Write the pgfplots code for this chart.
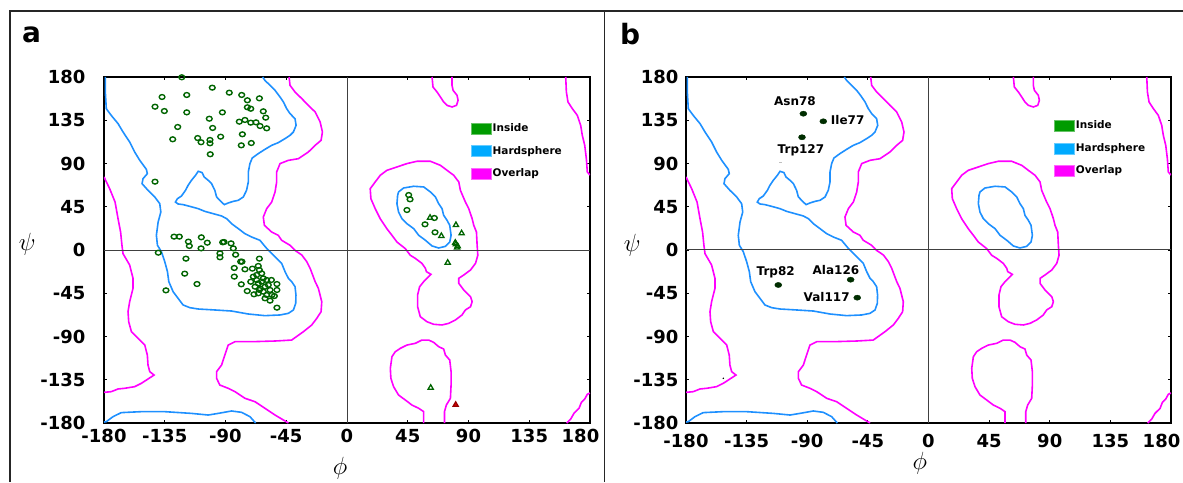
\documentclass[border=0pt]{standalone}
\usepackage{fontspec}
\setmainfont{DejaVu Sans}
\usepackage{pgfplots}
\usepackage{pgfplotstable}
\pgfplotsset{compat=1.18}

\definecolor{hblue}{RGB}{30,144,255}
\definecolor{ovmag}{RGB}{255,0,255}
\definecolor{ingreen}{RGB}{0,155,0}
\definecolor{legblue}{RGB}{0,170,255}
\definecolor{ptgreen}{RGB}{0,100,0}
\definecolor{ptdark}{RGB}{0,45,0}
\definecolor{ptred}{RGB}{150,0,0}

% contour lines (same background in both panels)
\pgfplotstableread{
x y
-179 180
-179 164
-178.3 147
-174.6 140
-169.6 131.5
-165.9 122.8
-161.0 112.4
-157.3 102
-153.5 93.3
-148.6 83.9
-147.9 79.4
-151.1 74.2
-151.8 69.0
-147.4 62.1
-142.4 55.2
-138.7 48.2
-137.9 39.5
-139.9 29.1
-141.2 15.3
-140.4 4.9
-137.5 -1.7
-135.0 -12.1
-133.0 -22.5
-132.0 -32.9
-128.8 -43.4
-125.1 -50.3
-121.4 -57.2
-116.4 -60.0
-110.2 -61.4
-97.9 -62.4
-85.5 -63.5
-73.1 -66.6
-60.8 -68.3
-49.6 -67.6
-43.4 -65.9
-39.7 -62.4
-38.0 -55.5
-37.8 -46.8
-38.5 -38.2
-41.0 -32.9
-43.4 -29.5
-45.9 -22.5
-48.4 -13.9
-52.1 -8.7
-55.8 -3.5
-59.5 1.7
-61.5 5.0
-64.5 10.1
-70.6 13.5
-75.6 17.0
-80.5 22.2
-85.5 27.4
-89.2 32.6
-92.9 35.4
-99.1 37.8
-105.3 40.2
-110.2 43.0
-116.4 45.4
-121.4 47.2
-125.1 47.9
-127.1 49.9
-125.6 53.4
-122.6 56.2
-119.6 62.1
-117.7 67.3
-115.2 72.5
-112.2 77.7
-110.2 81.9
-107.3 80.5
-105.8 76.0
-102.8 72.5
-100.3 69.0
-97.9 62.1
-96.6 55.2
-93.4 50.6
-90.9 47.2
-88.0 48.9
-84.3 50.6
-80.5 51.7
-76.8 55.2
-74.4 62.1
-73.1 70.8
-73.1 81.2
-71.9 89.9
-70.2 95.7
-65.7 100.3
-60.8 104.7
-55.8 108.9
-50.9 111.7
-45.9 115.9
-42.2 119.3
-39.7 122.8
-37.7 129.7
-38.5 136.6
-42.2 141.9
-44.7 147.1
-47.1 154.0
-49.6 159.2
-53.3 166.1
-57.0 171.3
-60.8 176.5
-62.5 180
}\blueone
\pgfplotstableread{
x y
-180 -179
-178.3 -178.6
-173.3 -173.4
-167.2 -169.2
-152.3 -168.2
-135.0 -168.2
-115.2 -170.0
-102.8 -171.7
-95.4 -170.0
-85.5 -167.5
-78.1 -168.9
-71.9 -173.4
-67.7 -180
}\bluetwo
\pgfplotstableread{
x y
38.2 60.4
41.9 64.5
49.4 66.3
56.8 65.6
61.8 60.4
65.5 55.2
67.9 48.2
70.4 43.0
71.6 36.1
74.1 30.9
76.1 25.7
77.1 15.3
76.1 8.3
72.9 3.8
67.9 2.1
63.0 4.2
58.1 10.1
53.1 15.3
49.4 22.2
44.4 27.4
40.7 32.6
38.2 39.5
37.0 48.2
37.5 56.9
38.2 60.4
}\bluethree
\pgfplotstableread{
x y
-180 76.0
-175.8 63.8
-171.8 49.9
-169.6 32.6
-167.7 18.7
-166.7 4.9
-165.9 -3.8
-161.0 -15.6
-158.5 -29.5
-158.5 -39.9
-161.0 -53.8
-162.2 -64.2
-161.7 -74.6
-159.7 -85.0
-154.8 -91.9
-149.8 -98.9
-147.9 -109.3
-147.4 -119.7
-146.1 -126.6
-142.9 -130.1
-147.4 -134.2
-152.3 -138.7
-157.3 -142.2
-164.7 -143.9
-169.6 -144.6
-174.6 -147.4
-180 -148.1
}\magone
\pgfplotstableread{
x y
-42.9 180
-42.2 171.3
-38.5 164.4
-33.5 157.5
-28.6 150.5
-23.6 143.6
-19.9 133.2
-18.2 122.8
-19.2 114.1
-23.6 108.9
-28.6 102.0
-36.0 95.0
-43.4 93.3
-49.6 89.9
-52.1 81.2
-52.1 70.8
-53.3 60.4
-55.8 49.9
-59.5 43.0
-62.0 34.3
-61.2 25.7
-55.8 18.7
-50.9 15.3
-48.4 10.1
-42.2 4.9
-38.5 -0.4
-33.5 -5.2
-29.8 -12.1
-27.3 -19.1
-23.6 -32.9
-21.2 -39.9
-18.7 -53.8
-19.2 -64.2
-22.4 -71.1
-26.1 -78.0
-32.3 -85.0
-41.0 -93.7
-53.3 -94.7
-70.6 -95.4
-83.0 -95.4
-88.0 -98.9
-90.5 -109.3
-92.9 -119.7
-96.6 -126.6
-96.6 -133.5
-94.2 -140.5
-88.0 -143.9
-83.0 -147.4
-75.6 -154.3
-68.2 -157.8
-60.8 -164.7
-53.3 -171.7
-47.1 -176.9
-43.4 -180
}\magtwo
\pgfplotstableread{
x y
63.0 180
63.7 169.6
66.7 164.4
69.2 159.2
71.6 154.0
74.1 150.5
77.8 148.8
81.1 150.5
82.3 155.7
81.5 161.0
78.6 166.1
77.8 171.3
77.8 180
}\magthree
\pgfplotstableread{
x y
162.0 180
162.5 164.4
163.7 154.0
166.9 147.1
170.6 140.1
173.1 129.7
174.3 119.3
176.1 108.9
177.3 95.0
178.0 81.2
180 78
}\magfour
\pgfplotstableread{
x y
46.9 -5.5
43.2 1.4
37.0 8.3
33.3 15.3
29.5 22.2
24.6 32.6
20.9 43.0
17.7 53.4
17.2 63.8
20.9 70.8
24.6 77.7
29.5 82.9
37.0 86.4
44.4 89.9
51.8 92.3
61.8 92.3
69.2 88.1
74.1 82.9
79.1 77.7
82.8 70.8
84.0 62.1
87.7 49.9
90.2 43.0
92.7 32.6
93.9 25.7
95.9 18.7
96.4 4.9
96.9 -5.5
95.2 -13.9
91.5 -20.8
86.5 -26.0
82.8 -29.5
82.8 -34.7
86.5 -41.6
91.5 -48.6
92.7 -53.8
91.5 -59.0
87.7 -62.4
85.2 -67.6
80.3 -72.8
75.4 -76.3
70.4 -78.0
64.2 -77.3
59.2 -74.6
54.3 -69.4
52.3 -59.0
52.3 -46.8
53.8 -38.2
56.8 -32.9
60.5 -27.7
62.2 -25.3
58.8 -22.5
58.1 -19.1
55.5 -13.9
50.6 -8.7
46.9 -5.5
}\magfive
\pgfplotstableread{
x y
56.8 -180
56.8 -168.2
53.1 -164.7
48.1 -161.3
43.2 -156.1
38.2 -150.9
34.5 -142.2
32.5 -133.5
32.1 -123.1
33.3 -111.0
35.8 -105.8
39.5 -102.3
44.4 -98.9
50.6 -97.1
55.5 -93.7
60.5 -93.7
64.2 -96.1
67.9 -100.6
71.6 -103.0
72.9 -109.3
76.1 -114.5
77.1 -126.6
77.1 -140.5
76.6 -154.3
73.6 -161.3
72.2 -168.2
72.2 -180
}\magsix
\pgfplotstableread{
x y
162.7 -180
165.7 -175.9
168.1 -170.0
171.9 -164.7
173.6 -158.5
176.1 -155.0
178.0 -150.2
180 -148.8
}\magseven

% residues, panel a
\pgfplotstableread{
x y
-122.4 179.7
-99.8 168.9
-87.2 163.7
-78.0 161.3
-64.9 157.8
-137.0 159.2
-118.7 161.3
-73.8 155.8
-142.2 149.1
-135.3 144.6
-118.7 143.2
-92.3 143.2
-73.8 148.5
-71.3 147.0
-62.0 144.3
-60.2 137.7
-102.0 136.6
-79.8 133.5
-75.6 135.3
-71.3 132.5
-67.4 132.8
-64.4 129.0
-59.5 126.6
-99.5 127.0
-125.4 128.0
-129.1 115.2
-110.6 116.5
-108.1 112.1
-101.5 114.5
-101.5 111.0
-93.6 117.9
-77.5 120.4
-78.3 108.9
-70.9 111.3
-101.3 99.6
-142.2 71.1
-128.1 13.9
-124.2 13.9
-117.5 8.7
-116.8 4.2
-107.9 13.2
-103.5 7.6
-108.1 1.7
-92.1 8.0
-91.1 8.3
-85.9 6.9
-84.2 1.7
-139.8 -2.8
-119.3 -9.0
-94.1 -3.5
-94.1 -7.6
-82.5 -4.9
-78.8 -12.1
-77.8 -12.1
-64.9 -9.0
-120.2 -24.6
-111.1 -35.4
-134.1 -42.0
-83.5 -18.7
-83.5 -27.7
-75.6 -20.1
-70.1 -19.4
-65.7 -16.6
-64.9 -20.8
-78.3 -35.7
-73.9 -42.7
-68.9 -46.1
-60.7 -50.3
-57.0 -52.7
-51.9 -60.0
-51.9 -35.4
-51.9 -41.6
-53.8 -47.9
-71.3 -33.0
-69.4 -27.7
-66.9 -26.0
-63.2 -24.3
-62.0 -29.5
-59.5 -31.2
-65.7 -34.7
-68.1 -38.2
-64.4 -39.9
-60.7 -38.2
-58.3 -36.4
-57.0 -41.6
-62.0 -43.4
-65.7 -45.1
-59.5 -46.8
-55.6 -46.8
-66.9 -31.2
-63.2 -32.9
-64.9 -41.6
-56.0 -31.2
45.7 57.2
46.7 52.7
44.4 41.6
57.8 26.7
64.7 33.3
65.2 18.4
}\circA
\pgfplotstableread{
x y
61.5 33.6
69.9 14.6
80.7 26.0
84.9 17.4
80.2 7.6
82.0 4.0
80.7 6.0
81.5 2.5
74.6 -13.2
62.0 -143.3
}\triA

\pgfplotsset{
  legend image code/.code={\filldraw[#1] (0pt,-5.5pt) rectangle (20pt,5.5pt);},
  rama/.style={
    scale only axis, height=346pt,
    xmin=-180, xmax=180, ymin=-180, ymax=180,
    xtick={-180,-135,...,180}, ytick={-180,-135,...,180},
    xticklabel={\ifdim\tick pt>170pt\relax\pgfmathprintnumber{\tick}\hspace*{19pt}\else\pgfmathprintnumber{\tick}\fi},
    tick align=inside, major tick length=3pt,
    tick style={black, line width=0.8pt},
    axis line style={black, line width=1.4pt},
    ticklabel style={font=\bfseries\fontsize{18}{20}\selectfont},
    /pgf/number format/assume math mode=true,
    legend style={draw=none, fill=none, anchor=north west, inner sep=0pt,
      font=\bfseries\fontsize{10.5}{12}\selectfont, row sep=10pt,
      nodes={inner sep=1.5pt}},
    legend cell align=left,
    xlabel={$\phi$}, ylabel={$\psi$},
    xlabel style={font=\fontsize{27}{29}\selectfont, anchor=center},
    ylabel style={font=\fontsize{27}{29}\selectfont, anchor=center, rotate=-90},
  },
  contours/.code={
    \addplot[hblue, line width=1.6pt, forget plot] table {\blueone};
    \addplot[hblue, line width=1.6pt, forget plot] table {\bluetwo};
    \addplot[hblue, line width=1.6pt, forget plot] table {\bluethree};
    \addplot[ovmag, line width=1.6pt, forget plot] table {\magone};
    \addplot[ovmag, line width=1.6pt, forget plot] table {\magtwo};
    \addplot[ovmag, line width=1.6pt, forget plot] table {\magthree};
    \addplot[ovmag, line width=1.6pt, forget plot] table {\magfour};
    \addplot[ovmag, line width=1.6pt, forget plot] table {\magfive};
    \addplot[ovmag, line width=1.6pt, forget plot] table {\magsix};
    \addplot[ovmag, line width=1.6pt, forget plot] table {\magseven};
    \addplot[black!75, line width=1pt, forget plot] coordinates {(-180,0) (180,0)};
    \addplot[black!75, line width=1pt, forget plot] coordinates {(0,-180) (0,180)};
  },
}

\begin{document}
\begin{tikzpicture}
\useasboundingbox (0,0) rectangle (1183pt,482pt);

% panel a
\begin{axis}[rama, width=486pt, at={(104pt,59pt)}, anchor=south west,
  yticklabel style={xshift=-15pt}, xticklabel style={yshift=-3pt},
  xlabel style={at={(axis description cs:0.486,-0.130)}},
  ylabel style={at={(axis description cs:-0.158,0.517)}},
  legend style={at={(axis cs:91.5,133)}}]
\pgfkeys{/pgfplots/contours}
\addplot[only marks, mark=o, ptgreen, mark size=2.4pt,
  mark options={xscale=1.2, line width=1.4pt}, forget plot] table {\circA};
\addplot[only marks, mark=triangle, ptgreen, mark size=3pt,
  mark options={line width=1.3pt}, forget plot] table {\triA};
\addplot[only marks, mark=triangle*, mark size=3pt,
  mark options={draw=ptred, fill=red!60!ptred, line width=1.2pt}, forget plot]
  coordinates {(80.5,-161.0)};
\addlegendimage{fill=ingreen, draw=ingreen!60!white}
\addlegendentry{Inside}
\addlegendimage{fill=legblue, draw=legblue!60!white}
\addlegendentry{Hardsphere}
\addlegendimage{fill=ovmag, draw=ovmag!60!white}
\addlegendentry{Overlap}
\end{axis}

% panel b
\begin{axis}[rama, width=485pt, at={(686pt,59pt)}, anchor=south west,
  yticklabel style={xshift=-4pt}, xticklabel style={yshift=-8pt},
  xlabel style={at={(axis description cs:0.482,-0.116)}},
  ylabel style={at={(axis description cs:-0.111,0.514)}},
  legend style={at={(axis cs:93,136)}}]
\pgfkeys{/pgfplots/contours}
\addplot[only marks, mark=*, mark size=2.6pt,
  mark options={xscale=1.35, draw=ptdark, fill=ptdark}, forget plot]
  coordinates {(-92.9,141.8) (-78.1,133.9) (-93.9,117.3)
               (-111.5,-36.4) (-57.8,-30.9) (-52.9,-49.6)};
\addplot[only marks, mark=-, mark size=1.5pt, black!25, forget plot]
  coordinates {(-110.2,91.6)};
\addplot[only marks, mark=*, mark size=0.5pt, black, forget plot]
  coordinates {(-152.3,-133.5)};
\node[font=\bfseries\fontsize{12}{14}\selectfont] at (axis cs:-99.1,154.7) {Asn78};
\node[font=\bfseries\fontsize{12}{14}\selectfont] at (axis cs:-60.0,135.0) {Ile77};
\node[font=\bfseries\fontsize{12}{14}\selectfont] at (axis cs:-94.7,103.7) {Trp127};
\node[font=\bfseries\fontsize{12}{14}\selectfont] at (axis cs:-113.4,-23.2) {Trp82};
\node[font=\bfseries\fontsize{12}{14}\selectfont] at (axis cs:-68.7,-20.8) {Ala126};
\node[font=\bfseries\fontsize{12}{14}\selectfont] at (axis cs:-75.6,-49.2) {Val117};
\addlegendimage{fill=ingreen, draw=ingreen!60!white}
\addlegendentry{Inside}
\addlegendimage{fill=legblue, draw=legblue!60!white}
\addlegendentry{Hardsphere}
\addlegendimage{fill=ovmag, draw=ovmag!60!white}
\addlegendentry{Overlap}
\end{axis}

% panel frame and letters
\draw[black!85, line width=1.5pt] (10pt,0) -- (10pt,471pt) -- (1183pt,471pt);
\draw[black!85, line width=1.5pt] (604.5pt,0) -- (604.5pt,471pt);
\node[anchor=base west, inner sep=0pt, font=\bfseries\fontsize{28}{30}\selectfont] at (22pt,439pt) {a};
\node[anchor=base west, inner sep=0pt, font=\bfseries\fontsize{28}{30}\selectfont] at (620pt,437pt) {b};
\end{tikzpicture}
\end{document}
